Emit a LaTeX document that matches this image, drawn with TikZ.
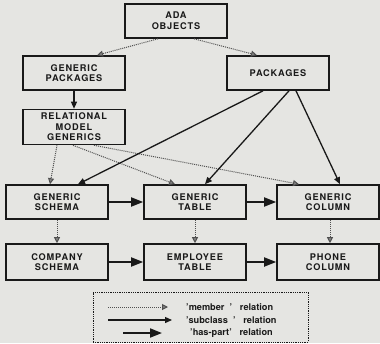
\documentclass[tikz,border=0pt]{standalone}
\usepackage{fontspec}
\setmainfont{TeX Gyre Heros}
\newfontfamily\capsfont[LetterSpace=9]{TeX Gyre Heros}
\usetikzlibrary{arrows.meta,positioning}
\definecolor{PaperGray}{RGB}{229,229,226}
\definecolor{InkBlack}{RGB}{25,25,25}
\definecolor{DotGray}{RGB}{80,80,80}
\tikzset{
  objbox/.style={draw=InkBlack,line width=1.6pt,fill=PaperGray,minimum width=102pt,
    minimum height=34pt,inner sep=2pt,align=center,text=InkBlack,
    font=\capsfont\bfseries\fontsize{9.2}{10.6}\selectfont},
  member/.style={densely dotted,line width=1pt,DotGray,
    -{Triangle[width=6pt,length=6pt,fill=DotGray!70]}},
  subclass/.style={line width=1.3pt,InkBlack,-{Triangle[width=6pt,length=7pt]}},
  haspart/.style={line width=1.8pt,InkBlack,-{Triangle[width=9pt,length=12pt]}},
  legtext/.style={anchor=west,text=InkBlack,inner sep=0pt,
    font=\bfseries\fontsize{9.2}{10}\selectfont}
}
\begin{document}
\begin{tikzpicture}[x=1pt,y=-1pt]
  \fill[PaperGray] (0,0) rectangle (380,343);
  \useasboundingbox (0,0) rectangle (380,343);

  \node[objbox] (ada) at (176,21) {ADA\\OBJECTS};
  \node[objbox] (genpack) at (74,73) {GENERIC\\PACKAGES};
  \node[objbox] (pack) at (278,73) {PACKAGES};
  \node[objbox,minimum height=35pt] (relgen) at (74,127) {RELATIONAL\\MODEL\\GENERICS};

  \node[objbox] (genschema) at (57,202) {GENERIC\\SCHEMA};
  \node[objbox] (gentable) at (195,202) {GENERIC\\TABLE};
  \node[objbox] (gencolumn) at (328,202) {GENERIC\\COLUMN};

  \node[objbox,minimum height=36pt] (compschema) at (57,262) {COMPANY\\SCHEMA};
  \node[objbox,minimum height=36pt] (emptable) at (195,262) {EMPLOYEE\\TABLE};
  \node[objbox,minimum height=36pt] (phonecol) at (328,262) {PHONE\\COLUMN};

  % member relations
  \draw[member] ([xshift=-18pt]ada.south) -- ([xshift=23pt]genpack.north);
  \draw[member] ([xshift=18pt]ada.south) -- ([xshift=-21pt]pack.north);
  \draw[member] ([xshift=-17pt]relgen.south) -- ([xshift=-7pt]genschema.north);
  \draw[member] ([xshift=-1pt]relgen.south) -- ([xshift=-20pt]gentable.north);
  \draw[member] ([xshift=20pt]relgen.south) -- ([xshift=-29pt]gencolumn.north);
  \draw[member] (genschema.south) -- (compschema.north);
  \draw[member] (gentable.south) -- (emptable.north);
  \draw[member] ([xshift=2pt]gencolumn.south) -- ([xshift=2pt]phonecol.north);

  % subclass relations
  \draw[subclass] (genpack.south) -- (relgen.north);
  \draw[subclass] ([xshift=-15pt]pack.south) -- ([xshift=21pt]genschema.north);
  \draw[subclass] ([xshift=11pt]pack.south) -- ([xshift=10pt]gentable.north);
  \draw[subclass] ([xshift=18pt]pack.south) -- ([xshift=12pt]gencolumn.north);

  % has-part relations
  \draw[haspart] (genschema) -- (gentable);
  \draw[haspart] (gentable) -- (gencolumn);
  \draw[haspart] (compschema) -- (emptable);
  \draw[haspart] (emptable) -- (phonecol);

  % legend
  \node[draw=InkBlack,densely dotted,line width=0.8pt,minimum width=215pt,
        minimum height=50pt,inner sep=0pt] (legend) at (200.5,317) {};
  \coordinate (m1) at (108,307);
  \coordinate (m2) at (168,307);
  \coordinate (s1) at (108,320);
  \coordinate (s2) at (172,320);
  \coordinate (h1) at (123,333);
  \coordinate (h2) at (162,333);
  \draw[member] (m1) -- (m2);
  \draw[subclass] (s1) -- (s2);
  \draw[haspart] (h1) -- (h2);
  \node[legtext] (memtext) at (186,307) {'member~~'~~ relation};
  \node[legtext] (subtext) at (186,320) {'subclass~~'~~ relation};
  \node[legtext] (hastext) at (190,333) {'has-part'~~ relation};
\end{tikzpicture}
\end{document}
